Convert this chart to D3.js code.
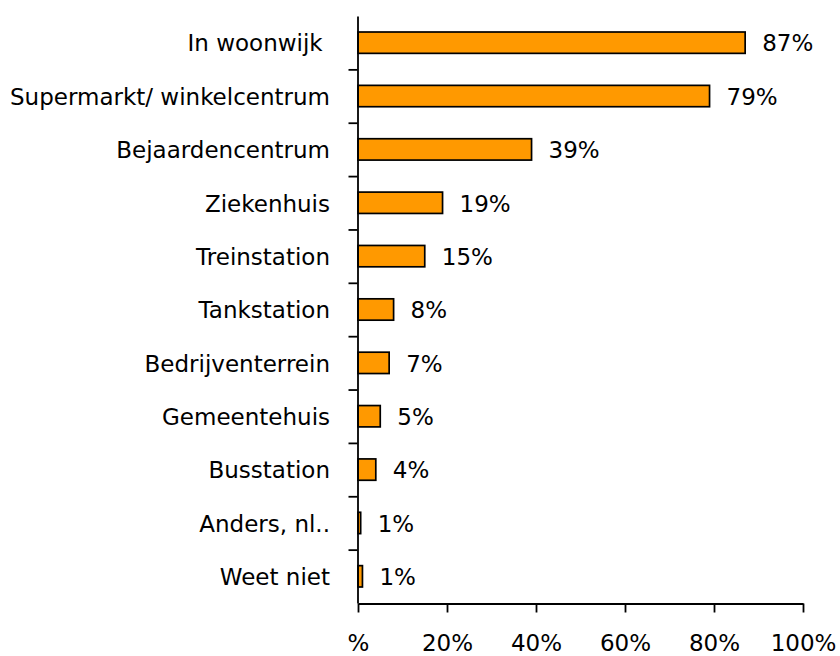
<!DOCTYPE html>
<html>
<head>
<meta charset="utf-8">
<script src="https://cdn.jsdelivr.net/npm/d3@7"></script>
<style>
  html, body { margin: 0; padding: 0; background: #fff; }
  svg { display: block; font-family: "DejaVu Sans", Verdana, sans-serif; }
  text { white-space: pre; }
</style>
</head>
<body>
<svg id="chart" width="840" height="656"></svg>
<script>
// Locations, top to bottom
const categories = [
  "In woonwijk ",
  "Supermarkt/ winkelcentrum",
  "Bejaardencentrum",
  "Ziekenhuis",
  "Treinstation",
  "Tankstation",
  "Bedrijventerrein",
  "Gemeentehuis",
  "Busstation",
  "Anders, nl..",
  "Weet niet"
];
// Share of respondents (percent)
const values = [87, 79, 39, 19, 15, 8, 7, 5, 4, 0.6, 1];
// Horizontal axis ticks
const tickValues = [0, 20, 40, 60, 80, 100];
const tickLabels = ["%", "20%", "40%", "60%", "80%", "100%"];

const svg = d3.select("#chart");
const x0 = 358, x1 = 803, yTop = 16, yBottom = 603;
const fontSize = 23;

const x = d3.scaleLinear().domain([0, 100]).range([x0, x1]);
const y = d3.scaleBand().domain(categories).range([yTop, yBottom])
  .paddingInner(0.6).paddingOuter(0.3);
// band boundaries for the category tick marks
const yEdge = d3.scaleLinear().domain([0, categories.length]).range([yTop, yBottom]);

const data = categories.map((c, i) => ({ cat: c, v: values[i] }));

// bars
svg.append("g").selectAll("rect").data(data).join("rect")
  .attr("x", x(0))
  .attr("y", d => y(d.cat))
  .attr("width", d => Math.max(0, x(d.v) - x(0)))
  .attr("height", y.bandwidth())
  .attr("fill", "#FF9900")
  .attr("stroke", "#000")
  .attr("stroke-width", 1.7);

// value labels
svg.append("g").selectAll("text").data(data).join("text")
  .attr("x", d => x(d.v) + 17)
  .attr("y", d => y(d.cat) + y.bandwidth() / 2)
  .attr("dy", "0.38em")
  .attr("font-size", fontSize)
  .attr("fill", "#000")
  .text(d => Math.round(d.v) + "%");

// category labels
svg.append("g").selectAll("text").data(data).join("text")
  .attr("x", 330)
  .attr("y", d => y(d.cat) + y.bandwidth() / 2)
  .attr("dy", "0.38em")
  .attr("text-anchor", "end")
  .attr("font-size", fontSize)
  .attr("fill", "#000")
  .text(d => d.cat);

// vertical axis with ticks between categories
const yAxis = d3.axisLeft(yEdge)
  .tickValues(d3.range(1, categories.length))
  .tickSize(9)
  .tickSizeOuter(0)
  .tickFormat("");
svg.append("g")
  .attr("transform", `translate(${x0 - 0.5},0)`)
  .call(yAxis)
  .call(g => g.selectAll("path, line").attr("stroke", "#000").attr("stroke-width", 1.8));

// horizontal axis
const xAxis = d3.axisBottom(x)
  .tickValues(tickValues)
  .tickSize(9)
  .tickSizeOuter(0)
  .tickPadding(22)
  .tickFormat((d, i) => tickLabels[i]);
svg.append("g")
  .attr("transform", `translate(0,${yBottom + 0.5})`)
  .call(xAxis)
  .call(g => g.selectAll("path, line").attr("stroke", "#000").attr("stroke-width", 1.8))
  .call(g => g.selectAll("text").attr("font-size", fontSize).attr("fill", "#000")
    .attr("font-family", "\"DejaVu Sans\", Verdana, sans-serif"));
</script>
</body>
</html>
